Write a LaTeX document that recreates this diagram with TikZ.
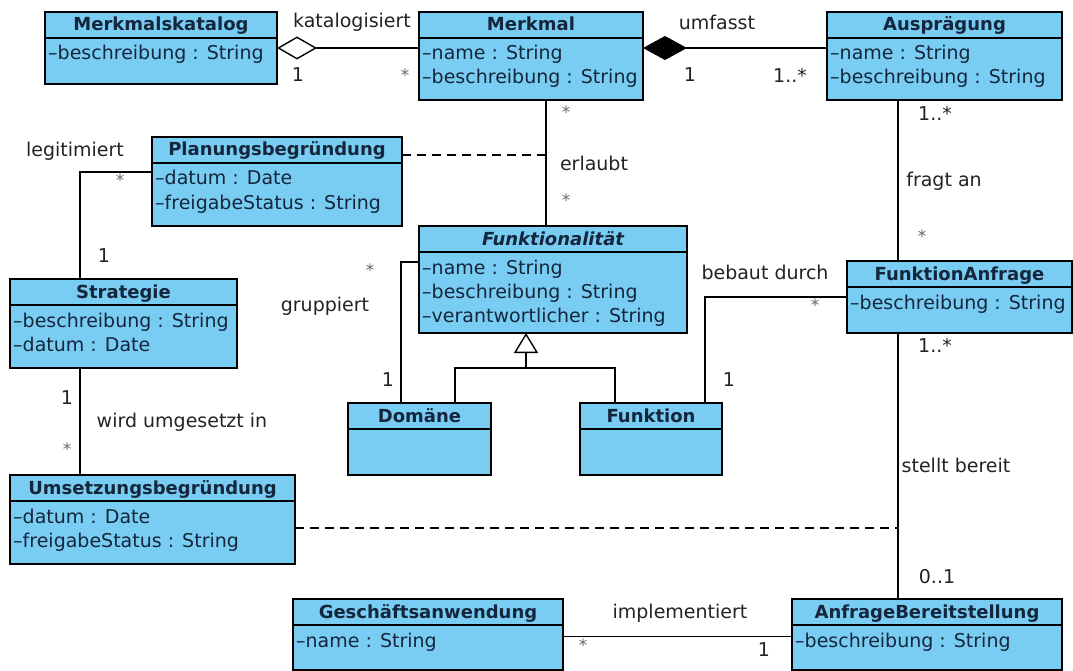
\documentclass[tikz,border=0pt]{standalone}
\usepackage{fontspec}
\setmainfont{DejaVu Sans}
\usetikzlibrary{arrows.meta}

\definecolor{classfill}{RGB}{122,205,242}
\definecolor{classtext}{RGB}{20,38,60}
\definecolor{labeltext}{RGB}{35,35,35}
\definecolor{startext}{RGB}{105,105,105}

\tikzset{
  classbox/.style={draw=black, line width=1.6pt, fill=classfill, rectangle, inner sep=0pt, outer sep=0pt},
  classtitle/.style={font=\fontsize{18}{22}\selectfont\bfseries, text=classtext, inner sep=0pt},
  attr/.style={font=\fontsize{19}{24}\selectfont, text=classtext, inner sep=0pt},
  lbl/.style={font=\fontsize{19}{24}\selectfont, text=labeltext, inner sep=0pt},
  star/.style={font=\fontsize{17}{20}\selectfont, text=startext, inner sep=0pt},
  assoc/.style={draw=black, line width=1.4pt},
  assocdash/.style={assoc, dash pattern=on 9pt off 6pt},
}

% class box: name, left, top, right, bottom, title
\newcommand{\umlclass}[6]{%
  \node[classbox, anchor=north west, minimum width={(#4)-(#2)}, minimum height={(#5)-(#3)}] (#1) at (#2,#3) {};
  \draw[line width=1.6pt] ([yshift=-26pt]#1.north west) -- ([yshift=-26pt]#1.north east);
  \node[classtitle, anchor=base] (#1-title) at ([yshift=-19pt]#1.north) {#6};
}
% attribute line: class name, line number, text
\newcommand{\umlattr}[3]{%
  \node[attr, anchor=base west] (#1-a#2) at ([xshift=3pt,yshift={-(48+24*(#2-1))*1pt}]#1.north west) {#3};
}

\begin{document}
\begin{tikzpicture}[x=1pt, y=-1pt]
  \useasboundingbox (0,0) rectangle (1073,671);
  \fill[white] (0,0) rectangle (1073,671);

  % classes
  \umlclass{katalog}{45}{12}{277}{84}{Merkmalskatalog}
  \umlattr{katalog}{1}{–beschreibung : String}

  \umlclass{merkmal}{419}{12}{643}{100}{Merkmal}
  \umlattr{merkmal}{1}{–name : String}
  \umlattr{merkmal}{2}{–beschreibung : String}

  \umlclass{auspr}{827}{12}{1062}{100}{Ausprägung}
  \umlattr{auspr}{1}{–name : String}
  \umlattr{auspr}{2}{–beschreibung : String}

  \umlclass{planung}{152}{137}{402}{226}{Planungsbegründung}
  \umlattr{planung}{1}{–datum : Date}
  \umlattr{planung}{2}{–freigabeStatus : String}

  \umlclass{strategie}{10}{279}{237}{368}{Strategie}
  \umlattr{strategie}{1}{–beschreibung : String}
  \umlattr{strategie}{2}{–datum : Date}

  \umlclass{funkt}{419}{226}{687}{333}{\itshape Funktionalität}
  \umlattr{funkt}{1}{–name : String}
  \umlattr{funkt}{2}{–beschreibung : String}
  \umlattr{funkt}{3}{–verantwortlicher : String}

  \umlclass{anfrage}{847}{261}{1072}{333}{FunktionAnfrage}
  \umlattr{anfrage}{1}{–beschreibung : String}

  \umlclass{domaene}{348}{403}{491}{475}{Domäne}
  \umlclass{funktion}{580}{403}{722}{475}{Funktion}

  \umlclass{umsetz}{10}{475}{295}{564}{Umsetzungsbegründung}
  \umlattr{umsetz}{1}{–datum : Date}
  \umlattr{umsetz}{2}{–freigabeStatus : String}

  \umlclass{gesch}{293}{599}{563}{670}{Geschäftsanwendung}
  \umlattr{gesch}{1}{–name : String}

  \umlclass{bereit}{792}{599}{1062}{670}{AnfrageBereitstellung}
  \umlattr{bereit}{1}{–beschreibung : String}

  % Merkmalskatalog -- Merkmal (aggregation)
  \draw[assoc, {Diamond[open, length=40pt, width=23pt, line width=1.4pt]}-] (katalog.east) -- (katalog.east -| merkmal.west);
  % Merkmal -- Auspraegung (composition)
  \draw[assoc, {Diamond[length=44pt, width=24pt]}-] ([yshift=8pt]merkmal.east) -- ([yshift=8pt]auspr.west);
  % Merkmal -- Funktionalitaet
  \draw[assoc] ([xshift=15pt]merkmal.south) coordinate (erl) -- (erl |- funkt.north);
  % association class Planungsbegruendung
  \draw[assocdash] ([yshift=-18pt]planung.north east) coordinate (pl) -- (pl -| erl);
  % Planungsbegruendung -- Strategie
  \draw[assoc] ([yshift=-35pt]planung.north west) -| ([xshift=70pt]strategie.north west);
  % Strategie -- Umsetzungsbegruendung
  \draw[assoc] ([xshift=70pt]strategie.south west) -- ([xshift=70pt]umsetz.north west);
  % Auspraegung -- FunktionAnfrage
  \draw[assoc] ([xshift=71pt]auspr.south west) coordinate (fa) -- (fa |- anfrage.north);
  % FunktionAnfrage -- AnfrageBereitstellung
  \draw[assoc] (fa |- anfrage.south) -- (fa |- bereit.north);
  % association class Umsetzungsbegruendung
  \draw[assocdash] ([yshift=-53pt]umsetz.north east) coordinate (us) -- (us -| fa);
  % Funktionalitaet -- Domaene
  \draw[assoc] ([yshift=-36pt]funkt.north west) -| ([xshift=53pt]domaene.north west);
  % generalization
  \coordinate (gen) at (526,368);
  \draw[assoc] ([xshift=107pt]domaene.north west) |- (gen) -| ([xshift=35pt]funktion.north west);
  \draw[assoc, -{Triangle[open, length=20pt, width=24pt, line width=1.4pt]}] (gen) -- (gen |- funkt.south);
  % FunktionAnfrage -- Funktion
  \draw[assoc] (anfrage.west) -| ([xshift=-17pt]funktion.north east);
  % Geschaeftsanwendung -- AnfrageBereitstellung
  \draw[assoc] ([yshift=-2pt]gesch.east) -- ([yshift=-2pt]gesch.east -| bereit.west);

  % association names and multiplicities
  \node[lbl] (l-kat) at (352,22) {katalogisiert};
  \node[lbl] (m-kat1) at (298,75) {1};
  \node[star] (m-kat2) at (405,75) {*};

  \node[lbl] (l-umf) at (717,22) {umfasst};
  \node[lbl] (m-umf1) at (690,75) {1};
  \node[lbl] (m-umf2) at (790,75) {1..*};

  \node[star] (m-erl1) at (566,112) {*};
  \node[lbl] (l-erl) at (594,163) {erlaubt};
  \node[star] (m-erl2) at (566,200) {*};

  \node[lbl] (l-leg) at (75,151) {legitimiert};
  \node[star] (m-leg1) at (120,180) {*};
  \node[lbl] (m-leg2) at (104,256) {1};

  \node[lbl] (m-fra1) at (935,113) {1..*};
  \node[lbl] (l-fra) at (944,181) {fragt an};
  \node[star] (m-fra2) at (922,236) {*};

  \node[star] (m-gru1) at (370,270) {*};
  \node[lbl] (l-gru) at (325,306) {gruppiert};
  \node[lbl] (m-gru2) at (388,380) {1};

  \node[lbl] (l-beb) at (765,272) {bebaut durch};
  \node[star] (m-beb1) at (815,305) {*};
  \node[lbl] (m-beb2) at (729,380) {1};

  \node[lbl] (m-ste1) at (935,345) {1..*};
  \node[lbl] (l-ste) at (956,465) {stellt bereit};
  \node[lbl] (m-ste2) at (937,577) {0..1};

  \node[lbl] (m-wir1) at (67,398) {1};
  \node[lbl] (l-wir) at (182,422) {wird umgesetzt in};
  \node[star] (m-wir2) at (67,449) {*};

  \node[lbl] (l-imp) at (680,613) {implementiert};
  \node[star] (m-imp1) at (583,645) {*};
  \node[lbl] (m-imp2) at (764,650) {1};
\end{tikzpicture}
\end{document}
